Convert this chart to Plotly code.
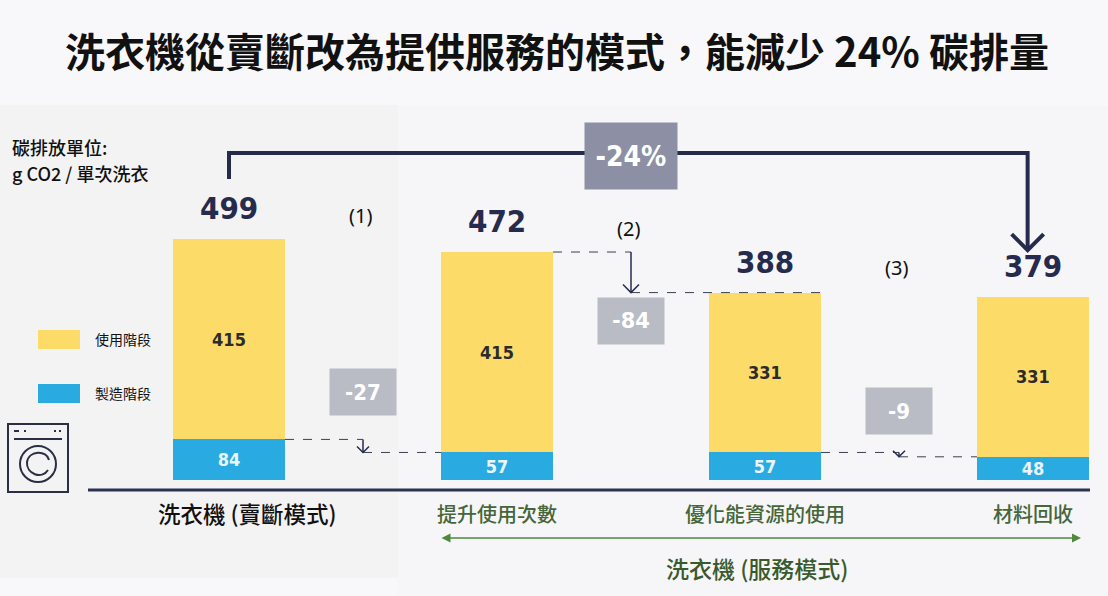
import plotly.graph_objects as go

# 資料
categories = ["洗衣機 (賣斷模式)", "提升使用次數", "優化能資源的使用", "材料回收"]
use_phase = [415, 415, 331, 331]
mfg_phase = [84, 57, 57, 48]
totals = [499, 472, 388, 379]
deltas = ["-27", "-84", "-9"]
steps = ["(1)", "(2)", "(3)"]
series_names = ["使用階段", "製造階段"]

W, H = 1108, 596
NAVY = "#262b4d"
YELLOW = "#fcdb69"
BLUE = "#29abe2"
GREEN = "#46663a"
CJK = "Noto Sans CJK TC"
NARROW = "DejaVu Sans Condensed, Liberation Sans Narrow, Roboto, sans-serif"
x = list(range(len(categories)))
BW = 0.418


def px(v):
    return v / W


def py(v):
    return 1 - v / H


def narrow(size, color):
    return dict(family=NARROW, size=size, color=color, weight="bold")


fig = go.Figure()
fig.add_trace(go.Bar(x=x, y=mfg_phase, name=series_names[1], width=BW,
                     marker=dict(color=BLUE, line=dict(width=0)),
                     text=mfg_phase, textposition="inside", insidetextanchor="middle",
                     constraintext="none", textangle=0,
                     textfont=narrow(18, "#eaf6fc"), hoverinfo="skip"))
fig.add_trace(go.Bar(x=x, y=use_phase, name=series_names[0], width=BW,
                     marker=dict(color=YELLOW, line=dict(width=0)),
                     text=use_phase, textposition="inside", insidetextanchor="middle",
                     constraintext="none", textangle=0,
                     textfont=narrow(18, "#2b2b2b"), hoverinfo="skip"))

shapes = []
ann = []


def note(xp, yp, text, font, xanchor="center", **kw):
    # 以像素位置放置的文字
    ann.append(dict(x=px(xp), y=py(yp), xref="paper", yref="paper", text=text, showarrow=False,
                    xanchor=xanchor, yanchor="middle", font=font, **kw))


# 背景
shapes.append(dict(type="rect", xref="paper", yref="paper", x0=0, x1=px(398), y0=py(578), y1=py(105),
                   fillcolor="#f3f3f4", line=dict(width=0), layer="below"))
shapes.append(dict(type="rect", xref="paper", yref="paper", x0=px(398), x1=1, y0=0, y1=py(105),
                   fillcolor="#f6f6f9", line=dict(width=0), layer="below"))

# 總量標籤
for i, t in enumerate(totals):
    ann.append(dict(x=i, y=t, text=str(t), showarrow=False, xanchor="center", yanchor="bottom", yshift=11,
                    font=narrow(31, NAVY)))

# 類別標籤
for i, c in enumerate(categories):
    if i == 0:
        f = dict(family=CJK, size=22.5, color="#111111", weight=500)
        xx = i + 0.07
    else:
        f = dict(family=CJK, size=20, color=GREEN, weight=500)
        xx = i
    ann.append(dict(x=xx, y=py(513), yref="paper", text=c, showarrow=False,
                    xanchor="center", yanchor="middle", font=f))

# 步驟間的虛線與箭頭
levels = [(mfg_phase[0], mfg_phase[1]), (totals[1], totals[2]), (mfg_phase[2], mfg_phase[3])]
box_y = [182, 329, 143]
step_y = [547, 520, 439]
for k, (hi, lo) in enumerate(levels):
    mid = k + 0.5
    shapes.append(dict(type="line", x0=k + BW / 2, x1=mid, y0=hi, y1=hi,
                       line=dict(color="#3b4052", width=1, dash="dash")))
    shapes.append(dict(type="line", x0=mid, x1=k + 1 + (BW / 2 if k == 1 else -BW / 2), y0=lo, y1=lo,
                       line=dict(color="#3b4052", width=1, dash="dash")))
    shapes.append(dict(type="line", x0=mid, x1=mid, y0=hi, y1=lo,
                       line=dict(color=NAVY, width=1.5)))
    s = 8 if k == 1 else 6
    shapes.append(dict(type="path", xsizemode="pixel", ysizemode="pixel", xanchor=mid, yanchor=lo,
                       path=f"M{-s},{s} L0,0 L{s},{s}", line=dict(color=NAVY, width=1.5)))
    f = narrow(22, "white")
    if k == 1:
        f = dict(family="DejaVu Sans", size=21, color="white", weight="bold")
    ann.append(dict(x=mid, y=box_y[k], text=deltas[k], showarrow=False, bgcolor="#b9bcc5",
                    xanchor="center", yanchor="middle", width=66, height=46, borderpad=0, font=f))
    ann.append(dict(x=mid - 0.01, y=step_y[k], text=steps[k], showarrow=False,
                    xanchor="center", yanchor="middle",
                    font=dict(family="Noto Sans", size=20, color="#111111")))

# -24% 括號箭頭
shapes.append(dict(type="path", path=f"M0,623 L0,677 L2.98,677 L2.98,{totals[3] + 99}",
                   line=dict(color=NAVY, width=4)))
shapes.append(dict(type="path", xsizemode="pixel", ysizemode="pixel", xanchor=2.98, yanchor=totals[3] + 97,
                   path="M-16,16 L0,0 L16,16", line=dict(color=NAVY, width=4)))
ann.append(dict(x=1.5, y=py(156), yref="paper", text="-24%", showarrow=False, bgcolor="#8d90a4",
                xanchor="center", yanchor="middle", width=92, height=66, borderpad=0,
                font=narrow(28, "white")))

# 底線
shapes.append(dict(type="line", xref="paper", yref="paper", x0=px(88), x1=px(1090), y0=py(490), y1=py(490),
                   line=dict(color="#2d3250", width=3)))

# 服務模式綠色箭頭
ann.append(dict(x=px(1081), y=py(538), xref="paper", yref="paper", ax=440 - 1081, ay=0,
                axref="pixel", ayref="pixel", text="", showarrow=True,
                arrowhead=2, arrowside="end+start", arrowsize=1.2, arrowwidth=1.5, arrowcolor="#4f8a3c"))
note(757, 568, "洗衣機 (服務模式)", dict(family=CJK, size=23, color="#3a5a2c", weight=500))

# 圖例
for i, (name, col) in enumerate(zip(series_names, [YELLOW, BLUE])):
    top = 330 + i * 54
    shapes.append(dict(type="rect", xref="paper", yref="paper", x0=px(38), x1=px(80), y0=py(top + 19), y1=py(top),
                       fillcolor=col, line=dict(width=0)))
    note(93, top + 9, name, dict(family=CJK, size=14, color="#111111"), xanchor="left")

# 單位
note(10, 147, "碳排放單位:", dict(family=CJK, size=18, color="#111111", weight=500), xanchor="left")
note(10, 173, "g CO2 / 單次洗衣", dict(family=CJK, size=18, color="#111111", weight=500), xanchor="left")

# 標題
note(557, 50, "洗衣機從賣斷改為提供服務的模式，能減少 24% 碳排量",
     dict(family=CJK, size=40, color="#111111", weight="bold"))

# 洗衣機圖示
ic = dict(color="#2b2f45", width=2)
shapes.append(dict(type="rect", xref="paper", yref="paper", x0=px(8), x1=px(68), y0=py(492), y1=py(424), line=ic))
shapes.append(dict(type="line", xref="paper", yref="paper", x0=px(14), x1=px(62), y0=py(439), y1=py(439), line=ic))
for a, b in [(14, 19), (24, 26), (54, 56), (59, 61)]:
    shapes.append(dict(type="line", xref="paper", yref="paper", x0=px(a), x1=px(b), y0=py(431), y1=py(431), line=ic))
shapes.append(dict(type="circle", xref="paper", yref="paper", x0=px(20), x1=px(56), y0=py(482), y1=py(446), line=ic))
shapes.append(dict(type="path", xref="paper", yref="paper",
                   path=f"M{px(49)},{py(460)} C{px(47)},{py(450)} {px(29)},{py(450)} {px(27)},{py(462)} "
                        f"C{px(26)},{py(474)} {px(42)},{py(480)} {px(48)},{py(470)}",
                   line=ic))

fig.update_layout(
    width=W, height=H, barmode="stack", showlegend=False,
    margin=dict(l=0, r=0, t=0, b=0),
    paper_bgcolor="#f8f8fa", plot_bgcolor="rgba(0,0,0,0)",
    xaxis=dict(range=[-0.8545, 3.2799], visible=False, fixedrange=True),
    yaxis=dict(range=[-240.2, 993.8], visible=False, fixedrange=True),
    shapes=shapes, annotations=ann,
)

fig.write_html("out.html", config={"displayModeBar": False},
               post_script="document.body.style.margin='0';")
